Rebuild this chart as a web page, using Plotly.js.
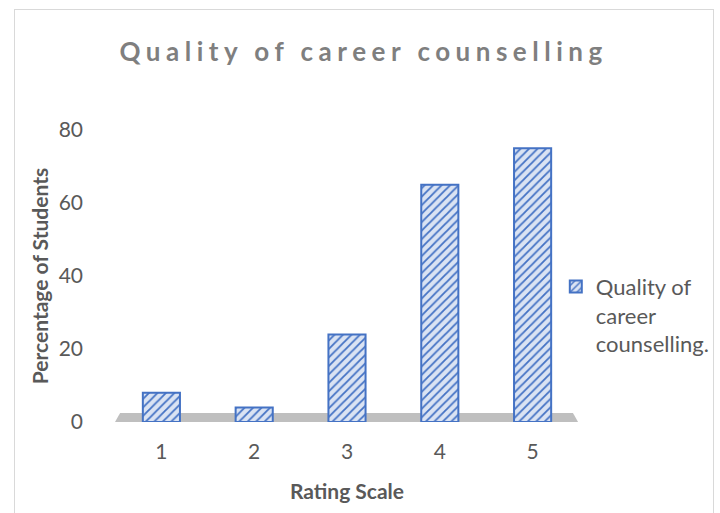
<!DOCTYPE html>
<html>
<head>
<meta charset="utf-8">
<script src="https://cdn.plot.ly/plotly-3.0.1.min.js"></script>
<style>
  html, body { margin: 0; padding: 0; background: #fff; }
  #wrap { position: relative; width: 720px; height: 513px; overflow: hidden; }
  #chart { position: absolute; left: 0; top: 0; width: 720px; height: 513px; }
  #frame { position: absolute; left: 14px; top: 9px; width: 698px; height: 520px;
           border: 1.5px solid #d9d9d9; pointer-events: none; }
</style>
</head>
<body>
<div id="wrap">
  <div id="chart"></div>
  <div id="frame"></div>
</div>
<script>
const categories = ["1", "2", "3", "4", "5"];
const percentages = [8, 4, 24, 65, 75];
const seriesName = "Quality of<br>career<br>counselling.";
const yTicks = [0, 20, 40, 60, 80];

const FONT = "Lato, 'Open Sans', sans-serif";

const trace = {
  type: "bar",
  x: categories,
  y: percentages,
  name: seriesName,
  showlegend: true,
  marker: {
    color: "#dae3f3",
    line: { color: "#4472c4", width: 2 },
    pattern: { shape: "/", fgcolor: "#4472c4", bgcolor: "#dae3f3", size: 6, solidity: 0.3 }
  },
  hoverinfo: "x+y"
};

const layout = {
  width: 720,
  height: 513,
  margin: { l: 115, r: 141, t: 130, b: 91, autoexpand: false },
  paper_bgcolor: "rgba(0,0,0,0)",
  plot_bgcolor: "rgba(0,0,0,0)",
  font: { family: FONT, color: "#595959" },
  title: {
    text: "Quality of career counselling",
    font: { family: FONT, size: 26, color: "#7f7f7f", weight: "bold" },
    x: 0.505, xref: "container", xanchor: "center",
    y: 1 - 52 / 513, yref: "container", yanchor: "middle"
  },
  bargap: 0.6,
  xaxis: {
    type: "category",
    showline: false, showgrid: false, zeroline: false, ticks: "",
    tickfont: { family: FONT, size: 21, color: "#595959" },
    ticklabelstandoff: 15,
    title: { text: "Rating Scale", font: { family: FONT, size: 21, color: "#595959", weight: "bold" }, standoff: 22 }
  },
  yaxis: {
    range: [0, 80],
    tickvals: yTicks,
    showline: false, showgrid: false, zeroline: false, ticks: "",
    tickfont: { family: FONT, size: 21, color: "#595959" },
    ticklabelstandoff: 31,
    title: { text: "Percentage of Students", font: { family: FONT, size: 21, color: "#595959", weight: "bold" }, standoff: 4 }
  },
  legend: {
    x: 0.95, xanchor: "left", y: 0.535, yanchor: "top",
    valign: "top",
    font: { family: FONT, size: 22, color: "#595959" },
    bgcolor: "rgba(0,0,0,0)"
  },
  shapes: [{
    type: "path", xref: "paper", yref: "paper", layer: "below",
    path: "M0,0 L0.011,0.031 L0.987,0.031 L0.998,0 Z",
    fillcolor: "#bfbfbf", line: { width: 0 }
  }]
};

Plotly.newPlot("chart", [trace], layout, { displayModeBar: false, staticPlot: true }).then(function () {
  const t = document.querySelector(".gtitle");
  if (t) { t.style.letterSpacing = "5.5px"; }
});
</script>
</body>
</html>
